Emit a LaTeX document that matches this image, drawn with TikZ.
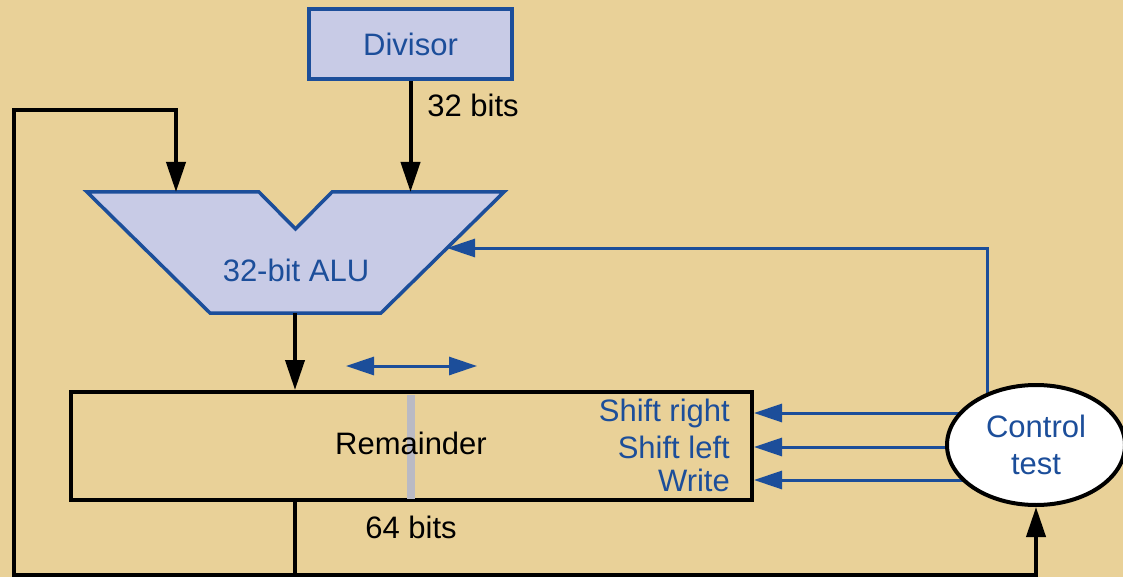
\documentclass[tikz,border=0pt]{standalone}
\usepackage{fontspec}
\setmainfont{Liberation Sans}
\usetikzlibrary{arrows.meta,shapes.geometric,calc}
\definecolor{paper}{RGB}{233,209,152}
\definecolor{hblue}{RGB}{28,78,154}
\definecolor{lav}{RGB}{200,203,230}
\definecolor{barg}{RGB}{186,186,196}
\pgfdeclarelayer{paperlayer}
\pgfdeclarelayer{wires}
\pgfsetlayers{paperlayer,wires,main}
\begin{document}
\begin{tikzpicture}[x=1pt,y=-1pt,
  font=\fontsize{31}{37}\selectfont,
  wire/.style={line width=4pt, draw=black},
  bwire/.style={line width=3pt, draw=hblue},
  ktip/.style={-{Triangle[length=30pt,width=19pt]}},
  btip/.style={-{Triangle[length=28pt,width=18pt]}},
  btwo/.style={{Triangle[length=28pt,width=18pt]}-{Triangle[length=28pt,width=18pt]}},
  bluebox/.style={draw=hblue, fill=lav, line width=4pt, text=hblue, inner sep=0pt},
  regbox/.style={draw=black, line width=4pt, inner sep=0pt},
  ctlshape/.style={ellipse, draw=black, fill=white, line width=4pt, text=hblue, align=center, inner sep=0pt},
  bluelabel/.style={text=hblue, inner sep=0pt},
  blacklabel/.style={text=black, inner sep=0pt}]
\useasboundingbox (0,0) rectangle (1123,577);
\begin{pgfonlayer}{paperlayer}
  \fill[paper] (0,0) rectangle (1123,577);
\end{pgfonlayer}

% Divisor
\node[bluebox, minimum width=203pt, minimum height=70pt] (div) at (410.5,44) {Divisor};

% ALU
\draw[draw=hblue, fill=lav, line width=3.5pt, line join=miter]
  (87,192) -- (259,192) -- (295.5,229) -- (332,192) -- (504,192) -- (381,313) -- (210,313) -- cycle;
\node[bluelabel] (alu) at (296,270) {32-bit ALU};
\coordinate (aluA) at (176,192);
\coordinate (aluB) at (410.5,192);
\coordinate (aluOut) at (295,313);
\coordinate (aluR) at (447,248);

% Remainder register
\node[regbox, minimum width=681pt, minimum height=108pt] (rem) at (411.5,446) {};
\fill[barg] (407,394.5) rectangle (415,498.5);
\node[blacklabel] (remtxt) at (411,443) {Remainder};
\node[bluelabel, anchor=east] (sr) at (730,413) {Shift right};
\node[bluelabel, anchor=east] (sl) at (730,447) {Shift left};
\node[bluelabel, anchor=east] (wr) at (730,480) {Write};
\node[blacklabel] (b64) at (411,527) {64 bits};

% Control test
\node[ctlshape, minimum width=178pt, minimum height=120pt] (ctl) at (1036,445) {Control\\test};

% Labels
\node[blacklabel] (b32) at (473,105) {32 bits};

% Shift direction arrow
\coordinate (da1) at (346,366);
\coordinate (da2) at (477,366);
\draw[bwire, btwo] (da1) -- (da2);

% Black data paths
\coordinate (j) at (295,575);
\coordinate (lc1) at (14,575);
\coordinate (lc2) at (14,110);
\coordinate (lc3) at (176,110);
\draw[wire, ktip] (div.south) -- (aluB);
\draw[wire, ktip] (aluOut) -- (rem.north -| aluOut);
\draw[wire] (rem.south -| j) -- (j);
\draw[wire, ktip] (j) -- (lc1) -- (lc2) -- (lc3) -- (aluA);
\draw[wire, ktip] (j) -| (ctl.south);

% Blue control paths (behind the ellipse)
\coordinate (c1) at (987,248);
\begin{pgfonlayer}{wires}
  \draw[bwire, btip] (ctl.center -| c1) -- (c1) -- (aluR);
  \draw[bwire, btip] (ctl.center |- sr.east) -- (rem.east |- sr.east);
  \draw[bwire, btip] (ctl.center |- sl.east) -- (rem.east |- sl.east);
  \draw[bwire, btip] (ctl.center |- wr.east) -- (rem.east |- wr.east);
\end{pgfonlayer}
\end{tikzpicture}
\end{document}
